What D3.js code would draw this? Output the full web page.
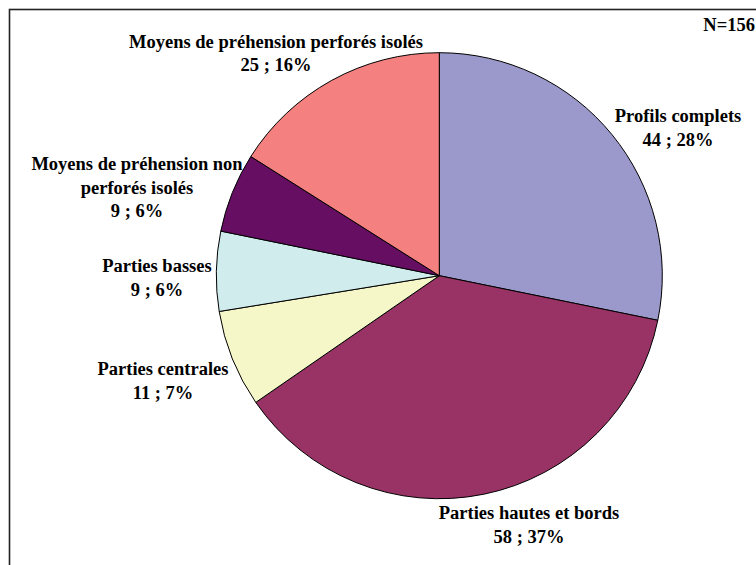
<!DOCTYPE html>
<html>
<head>
<meta charset="utf-8">
<script src="https://cdn.jsdelivr.net/npm/d3@7/dist/d3.min.js"></script>
<style>
  html, body { margin: 0; padding: 0; background: #ffffff; }
  svg { display: block; }
  text { font-family: "Liberation Serif", "Times New Roman", serif; font-weight: bold; fill: #000; }
</style>
</head>
<body>
<svg id="chart" width="756" height="565"></svg>
<script>
// Fragment categories, counts and slice colours (clockwise from 12 o'clock)
const categories = [
  "Profils complets",
  "Parties hautes et bords",
  "Parties centrales",
  "Parties basses",
  "Moyens de préhension non perforés isolés",
  "Moyens de préhension perforés isolés"
];
const counts = [44, 58, 11, 9, 9, 25];
const percents = [28, 37, 7, 6, 6, 16];
const colors = ["#9b99cb", "#993366", "#f5f7c9", "#d0ecec", "#660e62", "#f58080"];
const totalLabel = "N=156";

// Label layout: line breaks and anchor (centre x, first baseline) for each slice
const labelLines = [
  ["Profils complets"],
  ["Parties hautes et bords"],
  ["Parties centrales"],
  ["Parties basses"],
  ["Moyens de préhension non", "perforés isolés"],
  ["Moyens de préhension perforés isolés"]
];
const labelAnchors = [
  [678, 122], [529, 519], [163, 375], [157, 272], [137, 170], [276, 47.5]
];

const W = 756, H = 565;
const cx = 439.3, cy = 275.7, radius = 223;
const fontSize = 18.5, lineGap = 23.5;

const svg = d3.select("#chart");

// Chart frame
svg.append("rect")
  .attr("x", 9.5).attr("y", 9.5)
  .attr("width", W + 20).attr("height", H + 20)
  .attr("fill", "#ffffff")
  .attr("stroke", "#222")
  .attr("stroke-width", 1.6);

const pie = d3.pie().sort(null).value(d => d)(counts);
const arc = d3.arc().innerRadius(0).outerRadius(radius);

const g = svg.append("g").attr("transform", `translate(${cx},${cy})`);
g.selectAll("path.slice")
  .data(pie)
  .join("path")
  .attr("class", "slice")
  .attr("d", arc)
  .attr("fill", (d, i) => colors[i])
  .attr("stroke", "#000")
  .attr("stroke-width", 1)
  .attr("stroke-linejoin", "round");

// Data labels: category name then "count ; percent"
const labels = svg.append("g").attr("font-size", fontSize).attr("text-anchor", "middle");
categories.forEach((c, i) => {
  const lines = labelLines[i].concat([`${counts[i]} ; ${percents[i]}%`]);
  const t = labels.append("text")
    .attr("x", labelAnchors[i][0])
    .attr("y", labelAnchors[i][1]);
  lines.forEach((ln, k) => {
    t.append("tspan")
      .attr("x", labelAnchors[i][0])
      .attr("y", labelAnchors[i][1] + k * lineGap)
      .text(ln);
  });
});

// Sample size note, kept inside the right edge
svg.append("text")
  .attr("x", W - 1).attr("y", 31)
  .attr("text-anchor", "end")
  .attr("font-size", fontSize)
  .text(totalLabel);
</script>
</body>
</html>
